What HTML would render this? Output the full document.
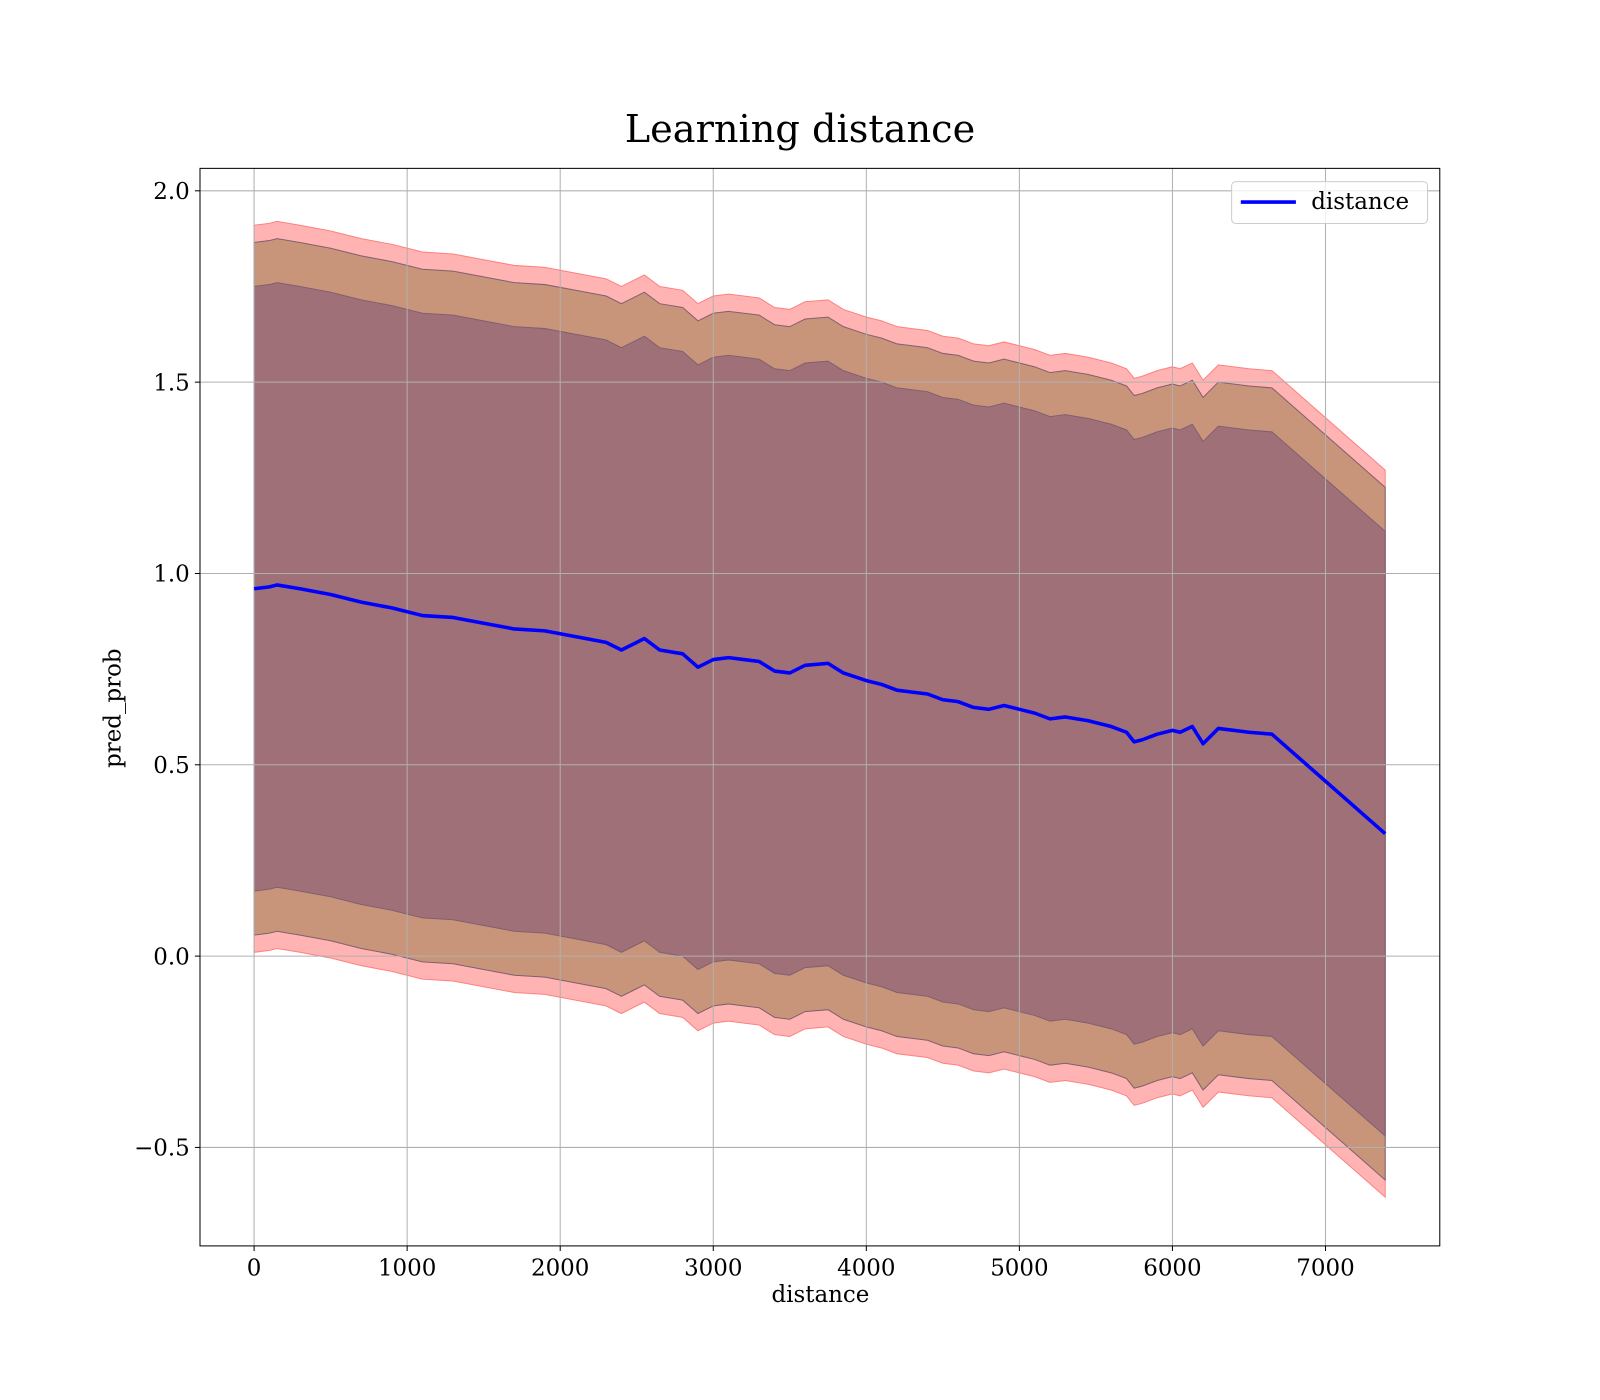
<!DOCTYPE html>
<html><head><meta charset="utf-8"><style>body{margin:0;background:#fff}svg{display:block}text{font-family:"DejaVu Serif","Liberation Serif",serif;fill:#000}</style></head>
<body>
<svg id="chart" width="1600" height="1400">
<g transform="scale(1.0204)">
<text x="784" y="139" font-size="37.5" text-anchor="middle">Learning distance</text>
<g id="plot"></g>
</g>
</svg>
<script>
const xs=[0,100,150,300,500,700,900,1100,1300,1500,1700,1900,2100,2300,2400,2550,2650,2800,2900,3000,3100,3200,3300,3400,3500,3600,3750,3850,4000,4100,4200,4300,4400,4500,4600,4700,4800,4900,5000,5100,5200,5300,5450,5600,5700,5750,5800,5900,6000,6050,6130,6200,6300,6500,6650,7390];
const means=[0.96,0.965,0.97,0.96,0.945,0.925,0.91,0.89,0.885,0.87,0.855,0.85,0.835,0.82,0.80,0.83,0.80,0.79,0.755,0.775,0.78,0.775,0.77,0.745,0.74,0.76,0.765,0.74,0.72,0.71,0.695,0.69,0.685,0.67,0.665,0.65,0.645,0.655,0.645,0.635,0.62,0.625,0.615,0.60,0.585,0.56,0.565,0.58,0.59,0.585,0.60,0.555,0.595,0.585,0.58,0.32];
const bandWidths=[0.95,0.905,0.79];
const bandColors=["#ffb3b3","#c9957a","#a07078"];
const xTicks=[0,1000,2000,3000,4000,5000,6000,7000];
const yTicks=[-0.5,0,0.5,1.0,1.5,2.0];
const yLabels=["\u22120.5","0.0","0.5","1.0","1.5","2.0"];
const L=196,R=1411,T=165,B=1221;
const sx=v=>249+v*0.15, sy=v=>937-v*375;
const g=document.getElementById('plot');const NS="http://www.w3.org/2000/svg";
function el(t,a,p){const e=document.createElementNS(NS,t);for(const k in a)e.setAttribute(k,a[k]);(p||g).appendChild(e);return e;}
bandWidths.forEach((w,i)=>{
 let d=xs.map((x,j)=>(j?'L':'M')+sx(x)+','+sy(means[j]+w)).join('');
 for(let j=xs.length-1;j>=0;j--)d+='L'+sx(xs[j])+','+sy(means[j]-w);
 const p=el('path',{d:d+'Z',fill:bandColors[i],stroke:i==0?'#ff8080':'#806070','stroke-width':1});
 
 
});
xTicks.forEach(v=>{
 const l=el('line',{x1:sx(v),x2:sx(v),y1:T,y2:B,stroke:'#b0b0b0','stroke-width':1});
 
 el('line',{x1:sx(v),x2:sx(v),y1:B,y2:B+5,stroke:'#000'});
 const t=el('text',{x:sx(v),y:B+29,'font-size':22.5,'text-anchor':'middle'});t.textContent=v;
 
});
yTicks.forEach((v,i)=>{
 const l=el('line',{x1:L,x2:R,y1:sy(v),y2:sy(v),stroke:'#b0b0b0','stroke-width':1});
 
 el('line',{x1:L-5,x2:L,y1:sy(v),y2:sy(v),stroke:'#000'});
 const t=el('text',{x:L-10,y:sy(v)+8,'font-size':22.5,'text-anchor':'end'});t.textContent=yLabels[i];
 
});
const line=el('polyline',{points:xs.map((x,j)=>sx(x)+','+sy(means[j])).join(' '),fill:'none',stroke:'#0000ff','stroke-width':3.5,'stroke-linejoin':'round'});

const fr=el('rect',{x:L,y:T,width:R-L,height:B-T,fill:'none',stroke:'#000','stroke-width':1});

const xt=el('text',{x:804,y:1276,'font-size':22.5,'text-anchor':'middle'});xt.textContent='distance';

const yt=el('text',{x:118,y:694,'font-size':22.5,'text-anchor':'middle',transform:'rotate(-90 118 694)'});yt.textContent='pred_prob';

const lg=el('g',{});
el('rect',{x:1207,y:178,width:192,height:41,rx:4,fill:'#fff','fill-opacity':0.8,stroke:'#ccc'},lg);
el('line',{x1:1216,x2:1270,y1:198,y2:198,stroke:'#0000ff','stroke-width':3.5},lg);
const lt=el('text',{x:1285,y:205,'font-size':22.5},lg);lt.textContent='distance';

</script>
</body></html>
